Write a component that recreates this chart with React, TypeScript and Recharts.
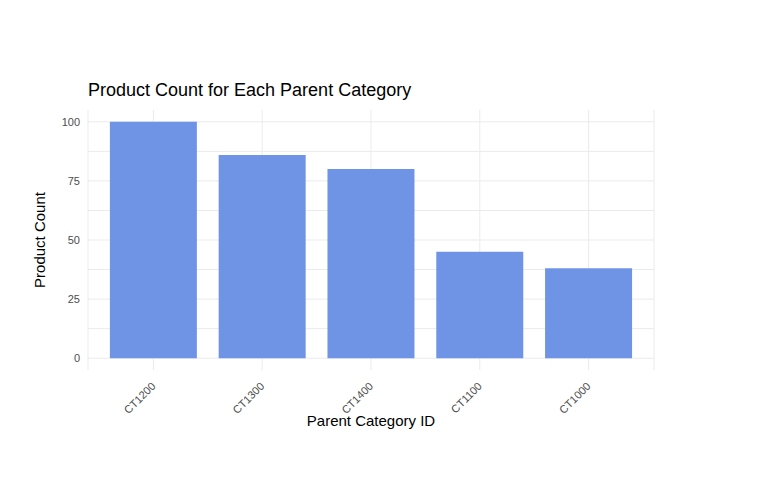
import { BarChart, Bar, XAxis, YAxis, CartesianGrid } from "recharts";

const categories = ["CT1200", "CT1300", "CT1400", "CT1100", "CT1000"];
const counts = [100, 86, 80, 45, 38];
const yTicks = [0, 25, 50, 75, 100];
const gridLines = [0, 12.5, 25, 37.5, 50, 62.5, 75, 87.5, 100];

const data = categories.map((c, i) => ({ category: c, count: counts[i] }));

const AngledTick = (props: any) => {
  const { x, y, payload } = props;
  return (
    <g transform={`translate(${x},${y + 6})`}>
      <text textAnchor="end" fill="#4d4d4d" fontSize={11} transform="rotate(-45)" dy={4}>
        {payload.value}
      </text>
    </g>
  );
};

export default function App() {
  return (
    <div style={{ position: "relative", width: 762, height: 494, fontFamily: "Liberation Sans, Arial, sans-serif" }}>
      <div style={{ position: "absolute", left: 80, top: 72, fontSize: 18, color: "#000" }}>
        Product Count for Each Parent Category
      </div>
      <BarChart
        width={762}
        height={494}
        data={data}
        margin={{ top: 102, right: 116, bottom: 80, left: 20 }}
        barCategoryGap="10%"
      >
        <CartesianGrid stroke="#ebebeb" horizontalValues={gridLines} />
        <XAxis
          dataKey="category"
          tick={<AngledTick />}
          tickLine={false}
          axisLine={false}
          padding={{ left: 11, right: 11 }}
          height={52}
          label={{ value: "Parent Category ID", position: "insideBottom", offset: -4, fill: "#000", fontSize: 15 }}
        />
        <YAxis
          domain={[-5, 105]}
          ticks={yTicks}
          tick={{ fill: "#4d4d4d", fontSize: 11 }}
          tickLine={false}
          axisLine={false}
          width={60}
          label={{ value: "Product Count", angle: -90, position: "insideLeft", offset: 12, fill: "#000", fontSize: 15, style: { textAnchor: "middle" } }}
        />
        <Bar dataKey="count" fill="#6f94e6" isAnimationActive={false} />
      </BarChart>
    </div>
  );
}
